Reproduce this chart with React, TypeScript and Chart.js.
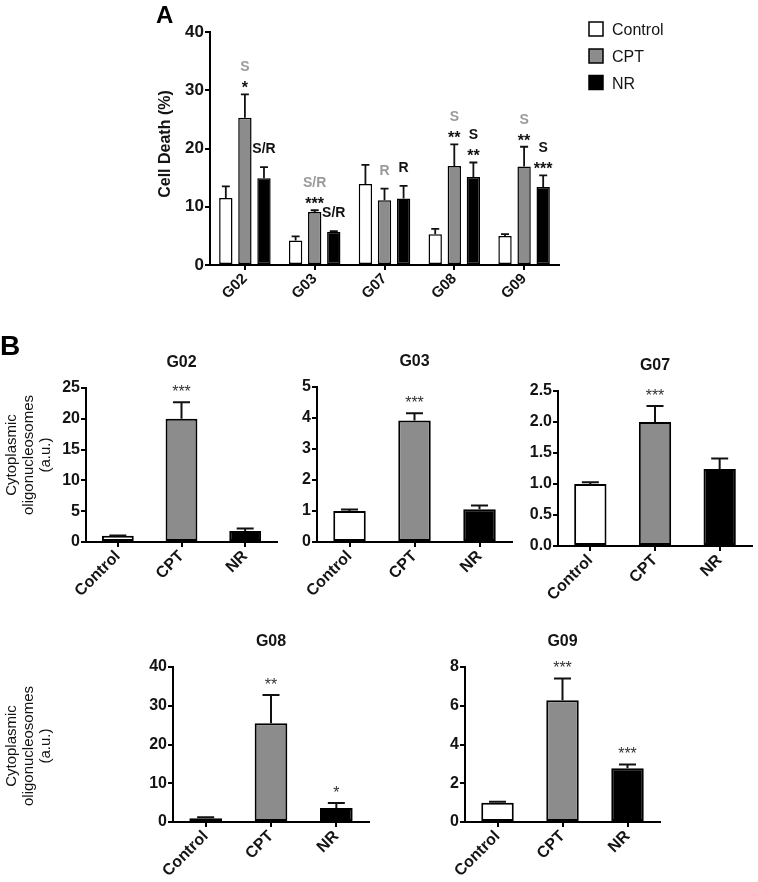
import { useEffect, useRef } from 'react';
import { Chart, registerables } from 'chart.js';
Chart.register(...registerables);

const W = 758;
const H = 882;
const FONT = '"Liberation Sans", Arial, Helvetica, sans-serif';
const INK = '#141414';

// ---------- Panel A data ----------
const groupsA = ['G02', 'G03', 'G07', 'G08', 'G09'];
const controlA = [11.5, 4.2, 13.9, 5.3, 5.0];
const controlAErr = [2.0, 0.7, 3.3, 0.9, 0.3];
const cptA = [25.3, 9.1, 11.1, 17.0, 16.9];
const cptAErr = [4.0, 0.3, 2.0, 3.7, 3.4];
const nrA = [14.9, 5.7, 11.4, 15.1, 13.4];
const nrAErr = [1.9, 0.1, 2.2, 2.5, 2.0];
const controlAStars = ['', '', '', '', ''];
const cptAStars = ['*', '***', '', '**', '**'];
const nrAStars = ['', '', '', '**', '***'];
const controlAClass = ['', '', '', '', ''];
const cptAClass = ['S', 'S/R', 'R', 'S', 'S'];
const nrAClass = ['S/R', 'S/R', 'R', 'S', 'S'];
const seriesNames = ['Control', 'CPT', 'NR'];

// ---------- Panel B data ----------
const treatments = ['Control', 'CPT', 'NR'];
const g02Values = [1.0, 20.0, 1.8];
const g02Err = [0.06, 2.7, 0.4];
const g02Stars = ['', '***', ''];
const g03Values = [1.0, 3.92, 1.06];
const g03Err = [0.05, 0.23, 0.12];
const g03Stars = ['', '***', ''];
const g07Values = [1.0, 2.0, 1.24];
const g07Err = [0.03, 0.26, 0.17];
const g07Stars = ['', '***', ''];
const g08Values = [1.0, 25.5, 3.6];
const g08Err = [0.2, 7.3, 1.3];
const g08Stars = ['', '**', '*'];
const g09Values = [1.0, 6.28, 2.77];
const g09Err = [0.04, 1.13, 0.2];
const g09Stars = ['', '***', '***'];

const FILLS = ['#ffffff', '#8c8c8c', '#000000'];

type Area = { left: number; top: number; right: number; bottom: number };

const panelsB = [
  { title: 'G02', values: g02Values, errs: g02Err, stars: g02Stars, max: 25, step: 5, dec: 0, area: { left: 86, top: 388, right: 277, bottom: 542 } },
  { title: 'G03', values: g03Values, errs: g03Err, stars: g03Stars, max: 5, step: 1, dec: 0, area: { left: 317, top: 387, right: 512, bottom: 542 } },
  { title: 'G07', values: g07Values, errs: g07Err, stars: g07Stars, max: 2.5, step: 0.5, dec: 1, area: { left: 558, top: 391, right: 752, bottom: 546 } },
  { title: 'G08', values: g08Values, errs: g08Err, stars: g08Stars, max: 40, step: 10, dec: 0, area: { left: 173, top: 667, right: 369, bottom: 822 } },
  { title: 'G09', values: g09Values, errs: g09Err, stars: g09Stars, max: 8, step: 2, dec: 0, area: { left: 465, top: 667, right: 660, bottom: 822 } },
];

const areaA: Area = { left: 210, top: 32, right: 559, bottom: 265 };

function axisOpts(area: Area, axis: 'x' | 'y', extra: any) {
  const common = {
    grid: { display: true, drawOnChartArea: false, drawTicks: true, tickLength: 5, color: '#000', lineWidth: 2, offset: false },
    border: { display: true, color: '#000', width: 2 },
  };
  if (axis === 'x') {
    return {
      ...common,
      type: 'category',
      offset: true,
      ticks: { color: INK, autoSkip: false, minRotation: 45, maxRotation: 45, padding: 0, font: { family: FONT, size: extra.font, weight: 'bold' } },
      afterFit: (s: any) => { s.height = 60; },
    };
  }
  return {
    ...common,
    min: 0,
    max: extra.max,
    ticks: { stepSize: extra.step, color: INK, padding: 1, font: { family: FONT, size: extra.font, weight: 'bold' }, callback: (v: any) => Number(v).toFixed(extra.dec) },
    afterFit: (s: any) => { s.width = area.left; },
  };
}

function errPlugin(errs: number[][], cap: number, lw: number) {
  return {
    id: 'errbars',
    afterDatasetsDraw(chart: any) {
      const ctx = chart.ctx;
      const ys = chart.scales.y;
      chart.data.datasets.forEach((ds: any, di: number) => {
        const meta = chart.getDatasetMeta(di);
        meta.data.forEach((el: any, i: number) => {
          const e = errs[di][i];
          if (!e) return;
          const yt = ys.getPixelForValue(ds.data[i] + e);
          ctx.save();
          ctx.strokeStyle = '#111';
          ctx.lineWidth = lw;
          ctx.beginPath();
          ctx.moveTo(el.x, el.y);
          ctx.lineTo(el.x, yt);
          ctx.moveTo(el.x - cap / 2, yt);
          ctx.lineTo(el.x + cap / 2, yt);
          ctx.stroke();
          ctx.restore();
        });
      });
    },
  };
}

function drawText(ctx: CanvasRenderingContext2D, txt: string, x: number, y: number, font: string, color: string, align: CanvasTextAlign = 'center', rot = 0) {
  ctx.save();
  ctx.font = font;
  ctx.fillStyle = color;
  ctx.textAlign = align;
  ctx.textBaseline = 'alphabetic';
  ctx.translate(x, y);
  if (rot) ctx.rotate(rot);
  ctx.fillText(txt, 0, 0);
  ctx.restore();
}

function makePanelA(canvas: HTMLCanvasElement) {
  const errs = [controlAErr, cptAErr, nrAErr];
  const stars = [controlAStars, cptAStars, nrAStars];
  const classes = [controlAClass, cptAClass, nrAClass];
  const classColors = ['#111', '#9a9a9a', '#111'];
  const annot = {
    id: 'annotA',
    afterDraw(chart: any) {
      const ctx = chart.ctx;
      const ys = chart.scales.y;
      chart.data.datasets.forEach((ds: any, di: number) => {
        const meta = chart.getDatasetMeta(di);
        meta.data.forEach((el: any, i: number) => {
          const top = ys.getPixelForValue(ds.data[i] + errs[di][i]);
          const s = stars[di][i];
          const c = classes[di][i];
          if (s) drawText(ctx, s, el.x, top - 1, `bold 16px ${FONT}`, '#111');
          if (c) drawText(ctx, c, el.x, top - (s ? 28 : 19) + 5, `bold 14px ${FONT}`, classColors[di]);
        });
      });
      // Panel letters
      drawText(ctx, 'A', 156, 23, `bold 24px ${FONT}`, '#000', 'left');
      drawText(ctx, 'B', 0, 355, `bold 28px ${FONT}`, '#000', 'left');
      // Y title
      drawText(ctx, 'Cell Death (%)', 170, 144, `bold 16px ${FONT}`, INK, 'center', -Math.PI / 2);
      // Legend
      const rows = [29, 56, 82.5];
      rows.forEach((cy, i) => {
        ctx.save();
        ctx.fillStyle = FILLS[i];
        ctx.strokeStyle = '#000';
        ctx.lineWidth = 1.5;
        ctx.fillRect(589, cy - 7, 14, 14);
        ctx.strokeRect(589, cy - 7, 14, 14);
        ctx.restore();
        drawText(ctx, seriesNames[i], 612, cy + 6, `16px ${FONT}`, INK, 'left');
      });
      // Panel B y titles
      const yl = ['Cytoplasmic', 'oligonucleosomes', '(a.u.)'];
      [455, 746].forEach((cy) => {
        yl.forEach((t, k) => {
          drawText(ctx, t, 11 + 17 * k + 5, cy, `15px ${FONT}`, INK, 'center', -Math.PI / 2);
        });
      });
    },
  };
  return new Chart(canvas, {
    type: 'bar',
    data: {
      labels: groupsA,
      datasets: [controlA, cptA, nrA].map((d, i) => ({
        label: seriesNames[i],
        data: d,
        backgroundColor: FILLS[i],
        borderColor: '#000',
        borderWidth: 1.5,
        borderSkipped: false,
        barPercentage: 0.7,
        categoryPercentage: 0.82,
      })),
    },
    options: {
      responsive: false,
      animation: false,
      events: [],
      layout: { padding: { left: 0, top: areaA.top, right: W - areaA.right, bottom: H - areaA.bottom - 60 } },
      plugins: { legend: { display: false }, tooltip: { enabled: false }, title: { display: false } },
      scales: {
        x: axisOpts(areaA, 'x', { font: 15 }),
        y: axisOpts(areaA, 'y', { max: 40, step: 10, dec: 0, font: 17 }),
      } as any,
    },
    plugins: [errPlugin(errs, 8, 1.8), annot],
  } as any);
}

function makePanelB(canvas: HTMLCanvasElement, p: typeof panelsB[number]) {
  const area = p.area;
  const annot = {
    id: 'annotB',
    afterDraw(chart: any) {
      const ctx = chart.ctx;
      const ys = chart.scales.y;
      const meta = chart.getDatasetMeta(0);
      meta.data.forEach((el: any, i: number) => {
        const s = p.stars[i];
        if (!s) return;
        const top = ys.getPixelForValue(p.values[i] + p.errs[i]);
        drawText(ctx, s, el.x, top - 14 + 9, `16px ${FONT}`, '#333');
      });
      const ca = chart.chartArea;
      drawText(ctx, p.title, (ca.left + ca.right) / 2, ca.top - 27 + 6, `bold 16px ${FONT}`, INK);
    },
  };
  return new Chart(canvas, {
    type: 'bar',
    data: {
      labels: treatments,
      datasets: [{
        data: p.values,
        backgroundColor: FILLS,
        borderColor: '#000',
        borderWidth: 2,
        borderSkipped: false,
        barPercentage: 0.5,
        categoryPercentage: 1.0,
      }],
    },
    options: {
      responsive: false,
      animation: false,
      events: [],
      layout: { padding: { left: 0, top: area.top, right: W - area.right, bottom: H - area.bottom - 60 } },
      plugins: { legend: { display: false }, tooltip: { enabled: false }, title: { display: false } },
      scales: {
        x: axisOpts(area, 'x', { font: 16 }),
        y: axisOpts(area, 'y', { max: p.max, step: p.step, dec: p.dec, font: 16 }),
      } as any,
    },
    plugins: [errPlugin([p.errs], 17, 2), annot],
  } as any);
}

export default function App() {
  const refs = useRef<(HTMLCanvasElement | null)[]>([]);
  useEffect(() => {
    const charts: Chart[] = [];
    const cA = refs.current[0];
    if (cA) charts.push(makePanelA(cA));
    panelsB.forEach((p, i) => {
      const c = refs.current[i + 1];
      if (c) charts.push(makePanelB(c, p));
    });
    return () => charts.forEach((c) => c.destroy());
  }, []);
  return (
    <div style={{ position: 'absolute', left: 0, top: 0, width: W, height: H, background: '#fff', overflow: 'hidden' }}>
      {[0, 1, 2, 3, 4, 5].map((i) => (
        <canvas
          key={i}
          ref={(el) => { refs.current[i] = el; }}
          width={W}
          height={H}
          style={{ position: 'absolute', left: 0, top: 0, width: W, height: H }}
        />
      ))}
    </div>
  );
}
